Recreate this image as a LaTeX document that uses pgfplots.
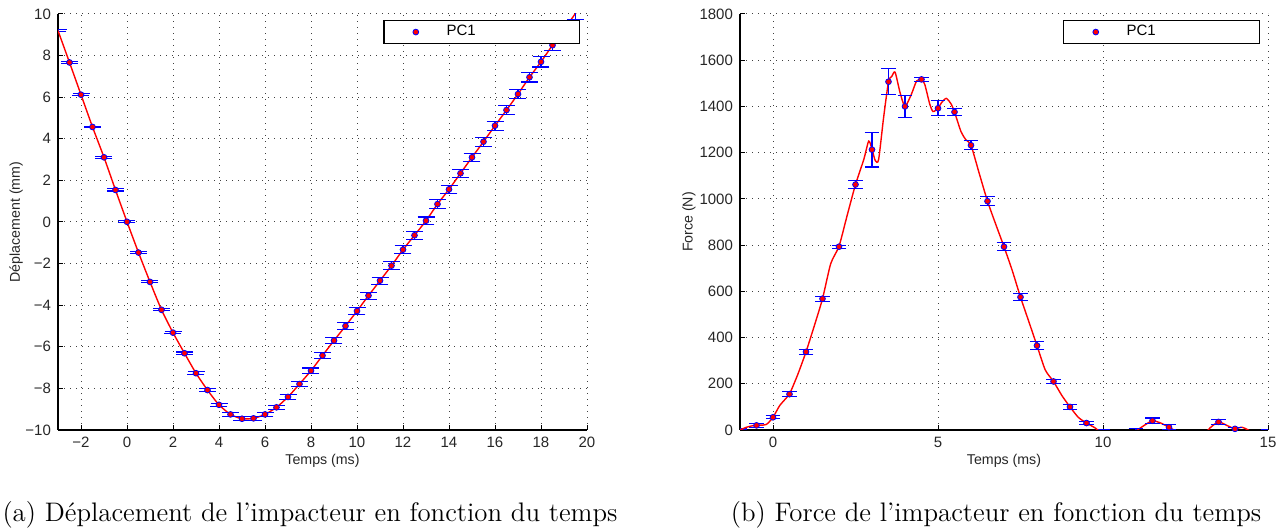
\documentclass[border=0pt]{standalone}
\usepackage{fontspec}
\usepackage{pgfplots}
\pgfplotsset{compat=1.18}
\usepackage{pgfplotstable}
\newfontfamily\hv{Liberation Sans}

\pgfplotstableread{
x y e
-2.5 7.67 0.04
-2 6.12 0.04
-1.5 4.57 0.04
-1 3.11 0.04
-0.5 1.54 0.05
0 0.01 0.05
0.5 -1.47 0.05
1 -2.88 0.05
1.5 -4.22 0.05
2 -5.32 0.06
2.5 -6.31 0.06
3 -7.27 0.07
3.5 -8.08 0.07
4 -8.79 0.08
4.5 -9.25 0.09
5 -9.46 0.09
5.5 -9.44 0.10
6 -9.25 0.10
6.5 -8.91 0.10
7 -8.41 0.12
7.5 -7.79 0.12
8 -7.15 0.13
8.5 -6.42 0.14
9 -5.70 0.14
9.5 -5.00 0.15
10 -4.28 0.17
10.5 -3.54 0.17
11 -2.82 0.17
11.5 -2.10 0.18
12 -1.33 0.18
12.5 -0.64 0.18
13 0.06 0.18
13.5 0.86 0.20
14 1.57 0.20
14.5 2.34 0.20
15 3.11 0.20
15.5 3.86 0.21
16 4.63 0.22
16.5 5.38 0.22
17 6.15 0.23
17.5 6.96 0.23
18 7.70 0.25
18.5 8.50 0.27
19 9.25 0.28
19.5 10.03 0.30
}\deplpts

\pgfplotstableread{
x y
-3 9.2
-2.5 7.67
-2 6.12
-1.5 4.57
-1 3.11
-0.5 1.54
0 0.01
0.5 -1.47
1 -2.88
1.5 -4.22
2 -5.32
2.5 -6.31
3 -7.27
3.5 -8.08
4 -8.79
4.5 -9.25
5 -9.46
5.5 -9.44
6 -9.25
6.5 -8.91
7 -8.41
7.5 -7.79
8 -7.15
8.5 -6.42
9 -5.70
9.5 -5.00
10 -4.28
10.5 -3.54
11 -2.82
11.5 -2.10
12 -1.33
12.5 -0.64
13 0.06
13.5 0.86
14 1.57
14.5 2.34
15 3.11
15.5 3.86
16 4.63
16.5 5.38
17 6.15
17.5 6.96
18 7.70
18.5 8.50
19 9.25
19.5 10.03
20 10.80
}\depline

\pgfplotstableread{
x y e
-0.5 20 8
0 55 6
0.5 155 10
1 338 10
1.5 568 11
2 793 7
2.5 1062 16
3 1213 75
3.5 1507 57
4 1400 47
4.5 1517 9
5 1392 33
5.5 1376 15
6 1232 19
6.5 990 19
7 793 17
7.5 575 16
8 365 17
8.5 210 9
9 100 12
9.5 30 8
11 -3 8
11.5 40 12
12 12 10
13.5 35 10
14 5 6
}\forcepts

\pgfplotstableread{
x y e
-1 4 4
10 -10 10
15 -10 10
}\forcehidden

\pgfplotstableread{
x y
-1 0
-0.8 12
-0.6 19
-0.4 21
-0.2 24
0 55
0.2 105
0.4 138
0.5 155
0.75 240
1 338
1.25 450
1.5 568
1.75 720
2 795
2.25 930
2.5 1062
2.75 1170
2.9 1250
3.0 1215
3.1 1165
3.2 1170
3.35 1350
3.5 1507
3.6 1530
3.7 1548
3.85 1460
4 1400
4.2 1455
4.35 1510
4.5 1517
4.6 1495
4.75 1410
4.85 1378
5 1392
5.1 1415
5.25 1435
5.4 1410
5.5 1376
5.7 1290
5.85 1255
6 1232
6.25 1110
6.5 990
6.75 890
7 793
7.25 690
7.5 575
7.75 470
8 365
8.25 260
8.5 210
8.75 150
9 100
9.25 55
9.5 30
9.75 10
10 -15
10.5 -25
10.8 -8
11 -3
11.25 20
11.5 40
11.75 30
12 12
12.25 -8
12.5 -25
13 -25
13.25 10
13.5 35
13.75 20
14 5
14.2 12
14.4 0
14.6 -20
15 -30
}\forceline

\pgfplotsset{
  mlab/.style={
    scale only axis,
    axis x line*=bottom, axis y line*=left,
    axis line style={black, line width=0.6pt, -},
    tick align=inside,
    major tick length=2.5pt,
    tick style={black, line width=0.5pt},
    grid=major,
    grid style={black!75, line width=0.5pt, dash pattern=on 0.6pt off 2.4pt},
    /pgf/number format/assume math mode=true,
    /pgf/number format/1000 sep={},
    tick label style={font=\hv\fontsize{7.5}{8}\selectfont, text=black!85},
    label style={font=\hv\fontsize{7.1}{8}\selectfont, text=black!85},
    legend cell align=left,
    legend style={draw=black, line width=0.7pt, inner xsep=3pt, inner ysep=0pt,
      font=\hv\fontsize{7.5}{9}\selectfont, text width=61pt,
      nodes={inner sep=2.4pt}},
  },
  pcpts/.style={blue, only marks, mark=*, mark size=1.45pt,
    mark options={fill=red, draw=blue, line width=0.4pt},
    legend image code/.code={\path[draw=none, fill=none] (0pt,0pt) (26pt,0pt);
      \filldraw[fill=red, draw=blue, line width=0.4pt] (13pt,0pt) circle[radius=1.45pt];},
    error bars/.cd, y dir=both, y explicit,
    error bar style={draw=blue, line width=0.55pt},
    error mark options={rotate=90, draw=blue, mark size=#1, line width=0.55pt}},
}

\begin{document}
\begin{tikzpicture}
\useasboundingbox (0pt,0pt) rectangle (643.5pt,265pt);

\begin{axis}[mlab, at={(29pt,50pt)}, anchor=south west,
  width=264.5pt, height=208pt,
  xmin=-3, xmax=20, ymin=-10, ymax=10,
  xtick={-2,0,...,20}, ytick={-10,-8,...,10},
  xticklabels={−2,0,2,4,6,8,10,12,14,16,18,20},
  yticklabels={−10,−8,−6,−4,−2,0,2,4,6,8,10},
  xlabel={Temps (ms)}, ylabel={Déplacement (mm)},
  xlabel style={at={(axis description cs:0.5,-0.075)}, anchor=center},
  ylabel style={at={(axis description cs:-0.079,0.5)}, anchor=center, rotate=0},
  legend style={at={(0.987,0.986)}, anchor=north east},
]
\addplot[forget plot, blue, draw=none, mark=none, error bars/.cd, y dir=both, y explicit,
  error bar style={draw=blue, line width=0.55pt},
  error mark options={rotate=90, draw=blue, mark size=4.25pt, line width=0.55pt}]
  coordinates {(-3,9.2) +- (0,0.06)};
\addplot[forget plot, red, line width=0.7pt, smooth, tension=0.4] table[x=x,y=y] {\depline};
\addplot[pcpts=4.25pt] table[x=x,y=y,y error=e] {\deplpts};
\addlegendentry{PC1}
\end{axis}

\begin{axis}[mlab, at={(370pt,50pt)}, anchor=south west,
  width=264pt, height=208pt,
  xmin=-1, xmax=15, ymin=0, ymax=1800,
  xtick={0,5,10,15}, ytick={0,200,...,1800},
  xlabel={Temps (ms)}, ylabel={Force (N)},
  xlabel style={at={(axis description cs:0.5,-0.075)}, anchor=center},
  ylabel style={at={(axis description cs:-0.0966,0.5)}, anchor=center, rotate=0},
  legend style={at={(0.985,0.986)}, anchor=north east},
]
\addplot[forget plot, blue, draw=none, mark=none, error bars/.cd, y dir=both, y explicit,
  error bar style={draw=blue, line width=0.55pt},
  error mark options={rotate=90, draw=blue, mark size=3.65pt, line width=0.55pt}]
  table[x=x,y=y,y error=e] {\forcehidden};
\addplot[forget plot, red, line width=0.7pt, smooth, tension=0.4] table[x=x,y=y] {\forceline};
\addplot[pcpts=3.65pt] table[x=x,y=y,y error=e] {\forcepts};
\addlegendentry{PC1}
\end{axis}

\node[anchor=base, font=\fontsize{13.4}{15}\selectfont] at (155pt,4pt) {(a) Déplacement de l'impacteur en fonction du temps};
\node[anchor=base, font=\fontsize{13.4}{15}\selectfont] at (498pt,4pt) {(b) Force de l'impacteur en fonction du temps};
\end{tikzpicture}
\end{document}
